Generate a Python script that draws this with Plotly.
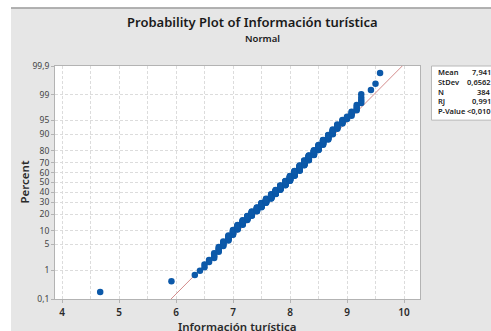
from statistics import NormalDist
import plotly.graph_objects as go

# Información turística: distinct scores and number of respondents at each
score_values = [4.67, 5.92, 6.33, 6.42, 6.5, 6.58, 6.67, 6.75, 6.83, 6.92,
                7.0, 7.08, 7.17, 7.25, 7.33, 7.42, 7.5, 7.58, 7.67, 7.75,
                7.83, 7.92, 8.0, 8.08, 8.17, 8.25, 8.33, 8.42, 8.5, 8.58,
                8.67, 8.75, 8.83, 8.92, 9.0, 9.08, 9.17, 9.25, 9.42, 9.5, 9.58]
score_counts = [1, 1, 1, 1, 2, 2, 4, 5, 6, 8,
                9, 10, 11, 11, 13, 13, 15, 15, 17, 17,
                18, 19, 20, 20, 20, 18, 17, 15, 14, 12,
                10, 9, 7, 5, 3, 4, 4, 4, 1, 1, 1]

# Percent scale ticks and x ticks
percent_ticks = [0.1, 1, 5, 10, 20, 30, 40, 50, 60, 70, 80, 90, 95, 99, 99.9]
x_ticks = [4, 5, 6, 7, 8, 9, 10]

# Summary statistics shown in the side table
stat_names = ["Mean", "StDev", "N", "RJ", "P-Value"]
stat_texts = ["7,941", "0,6562", "384", "0,991", "<0,010"]
fit_mean = 7.941
fit_sd = 0.6562

nd = NormalDist()

# Expand to individual observations, then median-rank plotting positions
xs = []
for v, c in zip(score_values, score_counts):
    xs.extend([v] * c)
xs.sort()
n = len(xs)
zs = [nd.inv_cdf((i - 0.3) / (n + 0.4)) for i in range(1, n + 1)]

z_lo = nd.inv_cdf(0.001)
z_hi = nd.inv_cdf(0.999)
tick_z = [nd.inv_cdf(p / 100) for p in percent_ticks]
tick_txt = [("%g" % p).replace(".", ",") for p in percent_ticks]

FONT = "Noto Sans"
GRID = "#dcdcdc"
FRAME = "#b3b3b3"

fig = go.Figure()

# Fitted normal line
fig.add_trace(go.Scatter(
    x=[fit_mean + fit_sd * z_lo, fit_mean + fit_sd * z_hi],
    y=[z_lo, z_hi],
    mode="lines",
    line=dict(color="#d48c8c", width=1),
    hoverinfo="skip",
))

# Observations
fig.add_trace(go.Scatter(
    x=xs, y=zs, mode="markers",
    marker=dict(color="#0c59a9", size=6.5, line=dict(width=0)),
))

W, H = 491, 331
ML, MR, MT, MB = 55, 71, 66, 24
pw = W - ML - MR
ph = H - MT - MB


def px_x(p):
    return (p - ML) / pw


def px_y(p):
    return (H - MB - p) / ph


shapes = [
    # white margin strips around the grey panel
    dict(type="rect", xref="paper", yref="paper", x0=px_x(-20), x1=px_x(11),
         y0=px_y(360), y1=px_y(-20), fillcolor="white", line=dict(width=0), layer="below"),
    dict(type="rect", xref="paper", yref="paper", x0=px_x(-20), x1=px_x(520),
         y0=px_y(5.5), y1=px_y(-20), fillcolor="white", line=dict(width=0), layer="below"),
    dict(type="line", xref="paper", yref="paper", x0=px_x(11), x1=px_x(520),
         y0=px_y(6), y1=px_y(6), line=dict(color="#9c9c9c", width=1.5)),
    # statistics box
    dict(type="rect", xref="paper", yref="paper", x0=px_x(431.5), x1=px_x(560),
         y0=px_y(122), y1=px_y(66), fillcolor="white", line=dict(color="#b8b8b8", width=1)),
]

annotations = [
    dict(text="Probability Plot of Información turística", xref="paper", yref="paper",
         x=px_x(252.5), y=px_y(21), showarrow=False, xanchor="center", yanchor="middle",
         font=dict(family=FONT, size=13, color="#1a1a1a", weight=600)),
    dict(text="Normal", xref="paper", yref="paper",
         x=px_x(262), y=px_y(38), showarrow=False, xanchor="center", yanchor="middle",
         font=dict(family=FONT, size=9.5, color="#1a1a1a", weight=600)),
    dict(text="Percent", xref="paper", yref="paper", x=px_x(24), y=0.5, textangle=-90,
         showarrow=False, xanchor="center", yanchor="middle",
         font=dict(family=FONT, size=11.5, color="#2a2a2a", weight=600)),
    dict(text="Información turística", xref="paper", yref="paper", x=0.5, y=px_y(335),
         showarrow=False, xanchor="center", yanchor="middle",
         font=dict(family=FONT, size=11.5, color="#2a2a2a", weight=600)),
]

row_y = [72.5, 82.5, 92.5, 102.5, 112.5]
for name, val, ry in zip(stat_names, stat_texts, row_y):
    annotations.append(dict(text=name, xref="paper", yref="paper", x=px_x(435.5), y=px_y(ry),
                            showarrow=False, xanchor="left", yanchor="middle",
                            font=dict(family=FONT, size=7.5, color="#1a1a1a", weight=600)))
    annotations.append(dict(text=val, xref="paper", yref="paper", x=px_x(493), y=px_y(ry),
                            showarrow=False, xanchor="right", yanchor="middle",
                            font=dict(family=FONT, size=7.5, color="#1a1a1a", weight=600)))

fig.update_layout(
    width=W, height=H, autosize=False,
    margin=dict(l=ML, r=MR, t=MT, b=MB, pad=0),
    paper_bgcolor="#e6e6e6", plot_bgcolor="white",
    showlegend=False,
    shapes=shapes, annotations=annotations,
    xaxis=dict(
        range=[4 - 7 / 57, 4 - 7 / 57 + pw / 57],
        tickvals=x_ticks, ticktext=[str(t) for t in x_ticks],
        tickfont=dict(family=FONT, size=10, color="#2a2a2a", weight=600),
        ticks="outside", ticklen=3, tickcolor=FRAME, ticklabelstandoff=1,
        showline=True, mirror=True, linecolor=FRAME, linewidth=1,
        showgrid=True, gridcolor=GRID, griddash="3px,2px", gridwidth=1,
        minor=dict(dtick=0.5, tick0=4, showgrid=True, gridcolor=GRID, griddash="3px,2px"),
        zeroline=False,
    ),
    yaxis=dict(
        range=[z_lo, z_hi],
        tickvals=tick_z, ticktext=tick_txt,
        tickfont=dict(family=FONT, size=8.5, color="#444444"),
        ticks="outside", ticklen=3, tickcolor=FRAME,
        showline=True, mirror=True, linecolor=FRAME, linewidth=1,
        showgrid=True, gridcolor=GRID, griddash="3px,2px", gridwidth=1,
        zeroline=False,
    ),
)

fig.write_html("out.html")
